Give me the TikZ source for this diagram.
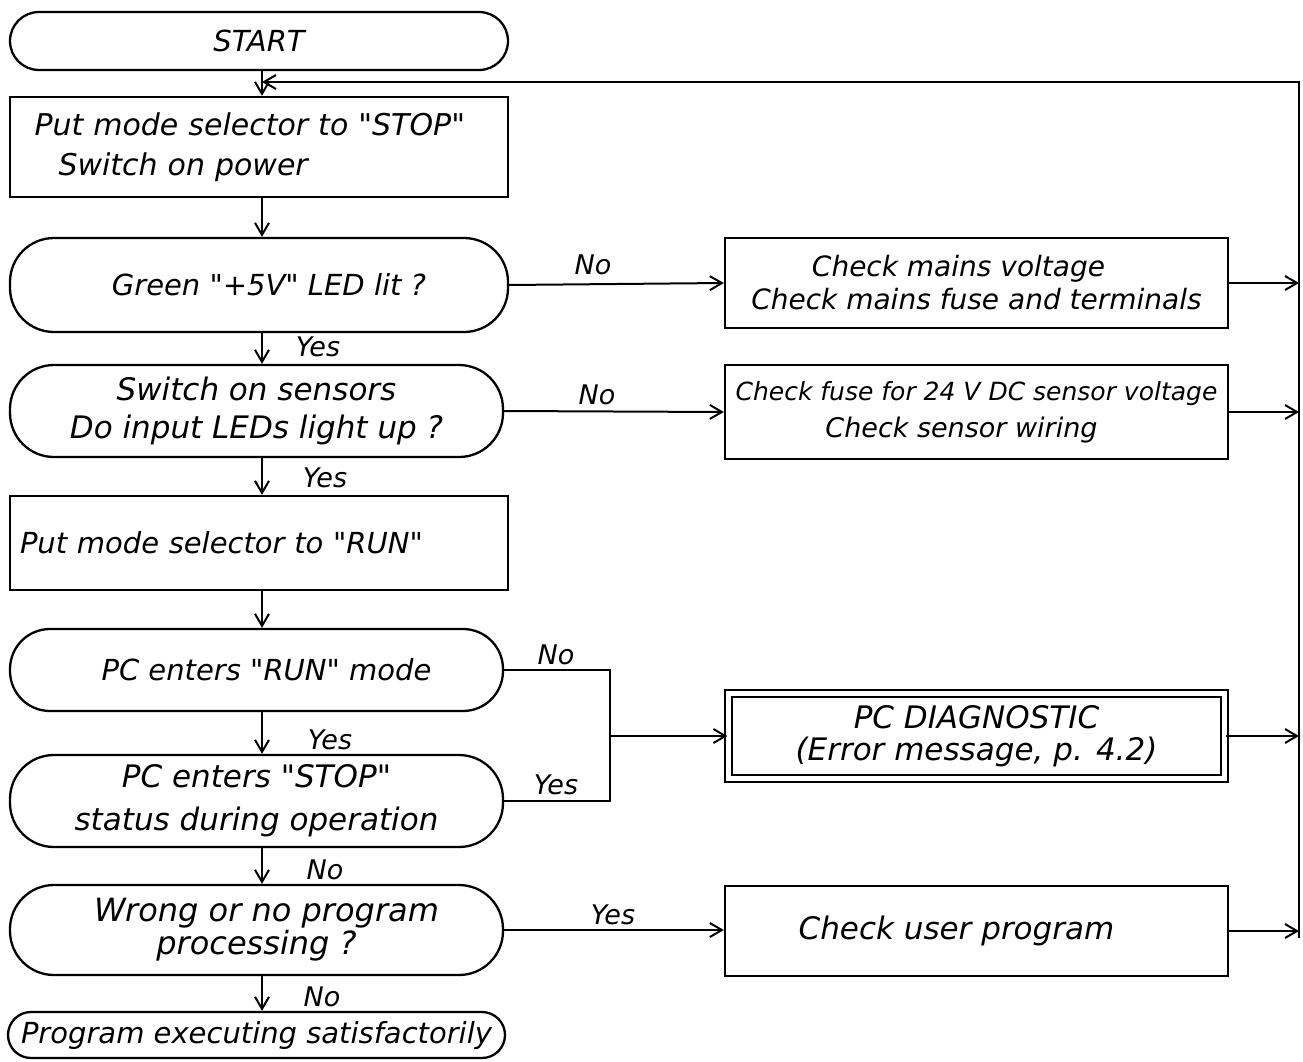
\documentclass[tikz,border=0pt]{standalone}
\usepackage{fontspec}
\setmainfont{DejaVu Sans}[ItalicFont={DejaVu Sans Oblique}, Ligatures=TeXOff]
\usetikzlibrary{arrows.meta}
\newcommand\hfs[2]{\fontsize{#1}{#2}\selectfont\itshape}
\begin{document}
\begin{tikzpicture}[x=1pt,y=-1pt,
  shp/.style={draw, line width=2.3pt, inner sep=0pt, align=center, font=\hfs{28}{38}},
  term/.style={shp, rounded corners=#1},
  ln/.style={line width=2pt},
  arr/.style={line width=2pt, -{Straight Barb[length=12pt,width=14pt,line width=2pt]}},
  lab/.style={font=\hfs{27}{30}, inner sep=0pt}]
\useasboundingbox (0,0) rectangle (1303,1062);
\fill[white] (0,0) rectangle (1303,1062);
% left column
\node[term=29pt, minimum width=498pt, minimum height=58pt, font=\hfs{29}{30}] (start) at (259,41) {START};
\node[shp, minimum width=498pt, minimum height=100pt, text width=449pt, align=left, font=\hfs{30}{40}] (b1) at (259,147)
  {Put mode selector to "STOP"\\\hspace*{24pt}Switch on power};
\node[term=44pt, minimum width=498pt, minimum height=94pt, font=\hfs{29}{38}] (d1) at (259,285) {\hspace*{20pt}Green "+5V" LED lit ?};
\node[term=44pt, minimum width=493pt, minimum height=92pt, font=\hfs{31}{38}] (d2) at (256.5,411) {Switch on sensors\\Do input LEDs light up ?};
\node[shp, minimum width=498pt, minimum height=94pt, text width=478pt, align=left, font=\hfs{29}{38}] (b2) at (259,543) {Put mode selector to "RUN"};
\node[term=40pt, minimum width=493pt, minimum height=82pt, font=\hfs{29}{38}] (d3) at (256.5,670) {\hspace*{20pt}PC enters "RUN" mode};
\node[term=44pt, minimum width=493pt, minimum height=92pt, font=\hfs{31}{43}] (d4) at (256.5,801) {PC enters "STOP"\\status during operation};
\node[term=44pt, minimum width=493pt, minimum height=90pt, font=\hfs{32}{33}] (d5) at (256.5,930) {\hspace*{20pt}Wrong or no program\\processing ?};
\node[term=23pt, minimum width=497pt, minimum height=46pt, font=\hfs{29}{34}] (end) at (256.5,1035) {Program executing satisfactorily};
% right column
\node[shp, minimum width=503pt, minimum height=90pt, font=\hfs{28}{33}] (A) at (976.5,283) {\hspace*{-36pt}Check mains voltage\\Check mains fuse and terminals};
\node[shp, minimum width=503pt, minimum height=94pt, font=\hfs{25}{37}] (B) at (976.5,412) {Check fuse for 24 V DC sensor voltage\\\hspace*{-30pt}\fontsize{27}{37}\selectfont Check sensor wiring};
\node[shp, double, double distance=4.5pt, minimum width=496pt, minimum height=85pt, font=\hfs{31}{32}] (P) at (976.5,736) {PC DIAGNOSTIC\\(Error message, p. 4.2)};
\node[shp, minimum width=503pt, minimum height=90pt, font=\hfs{31}{36}] (C) at (976.5,931) {\hspace*{-40pt}Check user program};
% helper coordinates
\coordinate (col) at (262,0);
\coordinate (rt) at (1299,938);
\coordinate (top) at (1299,82);
\coordinate (mj) at (610,736);
% vertical flow
\draw[arr] (col |- start.south) -- (col |- b1.north);
\draw[arr] (col |- b1.south) -- (col |- d1.north);
\draw[arr] (col |- d1.south) -- (col |- d2.north);
\draw[arr] (col |- d2.south) -- (col |- b2.north);
\draw[arr] (col |- b2.south) -- (col |- d3.north);
\draw[arr] (col |- d3.south) -- (col |- d4.north);
\draw[arr] (col |- d4.south) -- (col |- d5.north);
\draw[arr] (col |- d5.south) -- (col |- end.north);
% branches
\draw[arr] (d1.east) -- (A.west);
\draw[arr] (d2.east) -- (B.west);
\draw[ln] (d3.east) -| (mj);
\draw[ln] (d4.east) -| (mj);
\draw[arr] (mj) -- (P.west);
\draw[arr] (d5.east) -- (C.west |- d5.east);
% returns
\draw[arr] (A.east) -- (A.east -| rt);
\draw[arr] (B.east) -- (B.east -| rt);
\draw[arr] (P.east) -- (P.east -| rt);
\draw[arr] (C.east) -- (C.east -| rt);
\draw[arr] (rt) -- (top) -- (col |- top);
% labels
\node[lab] (l1) at (593,265) {No};
\node[lab] (l2) at (318,347) {Yes};
\node[lab] (l3) at (597,395) {No};
\node[lab] (l4) at (325,478) {Yes};
\node[lab] (l5) at (556,655) {No};
\node[lab] (l6) at (330,740) {Yes};
\node[lab] (l7) at (556,785) {Yes};
\node[lab] (l8) at (325,870) {No};
\node[lab] (l9) at (613,915) {Yes};
\node[lab] (l10) at (322,997) {No};
\end{tikzpicture}
\end{document}
